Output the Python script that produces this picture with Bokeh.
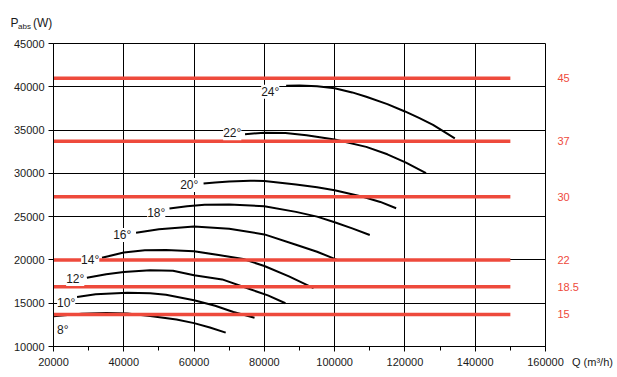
from bokeh.plotting import figure
from bokeh.models import (Range1d, LinearAxis, FixedTicker, SingleIntervalTicker,
                          NumeralTickFormatter, ColumnDataSource, LabelSet)
from bokeh.core.properties import value
from bokeh.embed import file_html
from bokeh.resources import INLINE

# ---------------- data ----------------
q_8 = [20000, 28000, 35000, 41000, 47500, 55000, 60000, 64500, 69000]
p_8 = [13480, 13780, 13870, 13800, 13520, 13120, 12700, 12200, 11600]

q_10 = [26700, 32000, 41000, 47500, 52000, 60000, 66000, 71200, 77200]
p_10 = [15720, 16030, 16220, 16150, 15980, 15350, 14700, 13980, 13330]

q_12 = [29500, 35000, 40000, 47500, 54000, 60000, 68000, 76000, 81000, 86000]
p_12 = [17950, 18350, 18600, 18800, 18750, 18230, 17750, 16610, 15900, 15000]

q_14 = [33800, 40000, 46000, 52000, 60000, 67000, 74000, 80000, 87000, 94000]
p_14 = [20260, 20850, 21120, 21150, 20990, 20560, 20100, 19300, 18100, 16750]

q_16 = [43500, 50000, 60000, 70000, 80000, 89000, 95000, 100700]
p_16 = [23150, 23550, 23850, 23600, 22950, 21750, 20950, 20000]

q_18 = [53000, 58000, 63000, 70000, 80000, 89000, 95000, 100000, 105000, 110000]
p_18 = [25930, 26200, 26380, 26400, 26200, 25550, 25000, 24350, 23650, 22880]

q_20 = [62700, 66000, 70000, 76000, 80000, 89000, 95000, 100000, 108000, 113000, 117500]
p_20 = [28820, 28950, 29050, 29150, 29130, 28700, 28400, 28050, 27300, 26700, 25970]

q_22 = [74500, 80000, 86000, 92000, 100000, 109000, 115000, 120300, 126000]
p_22 = [34530, 34700, 34650, 34400, 33900, 33060, 32200, 31240, 30020]

q_24 = [86200, 90000, 95000, 100000, 105000, 109000, 115000, 120000, 124000, 128000, 134200]
p_24 = [40110, 40150, 40050, 39820, 39350, 38850, 38000, 37150, 36400, 35600, 34050]

angle_labels = ["8°", "10°", "12°", "14°", "16°", "18°", "20°", "22°", "24°"]
label_q = [22620, 23610, 26180, 30440, 39550, 49230, 58620, 70860, 81670]
label_p = [11850, 15025, 17800, 20000, 22886, 25430, 28665, 34620, 39420]

motor_kw = ["45", "37", "30", "22", "18.5", "15"]
motor_p = [41000, 33700, 27300, 20000, 16900, 13700]
motor_q_from = 20000
motor_q_to = 150000

q_min, q_max = 20000, 160000
p_min, p_max = 10000, 45000

y_title_main, y_title_sub, y_title_unit = "P", "abs", "(W)"
x_title = "Q (m³/h)"

FONT = "Liberation Sans"
RED = "#ee4a3c"
TXT = "#1a1a1a"

curves = [(q_8, p_8), (q_10, p_10), (q_12, p_12), (q_14, p_14), (q_16, p_16),
          (q_18, p_18), (q_20, p_20), (q_22, p_22), (q_24, p_24)]

p = figure(width=617, height=377, title=None,
           x_range=Range1d(q_min, q_max), y_range=Range1d(p_min, p_max),
           output_backend="svg", toolbar_location=None,
           min_border_left=53, min_border_right=72,
           min_border_top=43, min_border_bottom=31)
p.background_fill_color = "white"
p.border_fill_color = "white"
p.outline_line_color = "black"
p.outline_line_width = 1
p.outline_line_alpha = 1

# axes
xt = SingleIntervalTicker(interval=20000, num_minor_ticks=2)
yt = SingleIntervalTicker(interval=5000, num_minor_ticks=0)
xa = p.below[0]
ya = p.left[0]
xa.ticker = xt
ya.ticker = yt
for ax in (xa, ya):
    ax.formatter = NumeralTickFormatter(format="0")
    ax.axis_line_color = "black"
    ax.major_tick_line_color = "black"
    ax.minor_tick_line_color = "black"
    ax.major_tick_in = 0
    ax.major_tick_out = 5
    ax.minor_tick_in = 0
    ax.minor_tick_out = 4
    ax.major_label_text_font = FONT
    ax.major_label_text_font_size = "11px"
    ax.major_label_text_color = TXT
xa.major_label_standoff = 6
ya.major_label_standoff = 4
ya.minor_tick_line_color = None

p.xgrid.ticker = xt
p.ygrid.ticker = yt
p.xgrid.grid_line_color = "black"
p.ygrid.grid_line_color = "black"
p.xgrid.grid_line_width = 1
p.ygrid.grid_line_width = 1
p.xgrid.grid_line_alpha = 1
p.ygrid.grid_line_alpha = 1

# right axis with motor power labels
p.extra_y_ranges = {"motor": Range1d(p_min, p_max)}
ra = LinearAxis(y_range_name="motor", ticker=FixedTicker(ticks=motor_p),
                major_label_overrides={v: k for v, k in zip(motor_p, motor_kw)})
ra.axis_line_color = None
ra.major_tick_line_color = None
ra.minor_tick_line_color = None
ra.major_tick_in = 0
ra.major_tick_out = 0
ra.major_label_standoff = 12
ra.major_label_text_font = FONT
ra.major_label_text_font_size = "11px"
ra.major_label_text_color = RED
p.add_layout(ra, "right")

# curves
for q, pw in curves:
    p.line(q, pw, line_color="black", line_width=2)

# motor lines
n = len(motor_p)
p.segment(x0=[motor_q_from] * n, y0=motor_p, x1=[motor_q_to] * n, y1=motor_p,
          line_color=RED, line_width=3.5)

# angle labels
src = ColumnDataSource(dict(x=label_q, y=label_p, t=angle_labels))
p.add_layout(LabelSet(x="x", y="y", text="t", source=src,
                      text_align="center", text_baseline="middle",
                      text_font=value(FONT), text_font_size=value("12px"),
                      text_color=TXT,
                      background_fill_color="white"))

# axis titles: text glyphs anchored at frame corners, drawn at overlay level
def title_text(x, y, dx, dy, text, size):
    p.text(x=[x], y=[y], text=[text], x_offset=dx, y_offset=dy,
           text_font=value(FONT), text_font_size=value(size), text_color=TXT,
           text_baseline="alphabetic", text_align="left", level="overlay")

title_text(q_min, p_max, -43, -21, y_title_main, "12px")
title_text(q_min, p_max, -35.5, -17, y_title_sub, "8px")
title_text(q_min, p_max, -20.5, -21, y_title_unit, "12px")
title_text(q_max, p_min, 26.5, 15.5, x_title, "11px")

open("out.html", "w").write(file_html(p, INLINE))
